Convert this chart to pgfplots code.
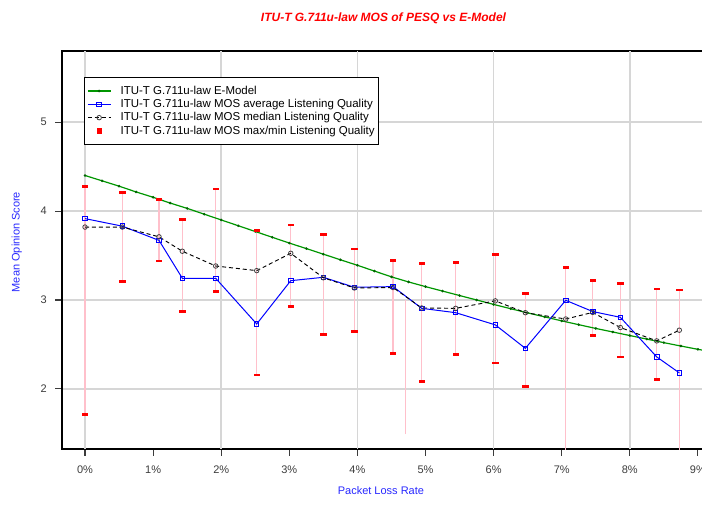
\documentclass[border=0pt]{standalone}
\usepackage{pgfplots}
\usepackage{pgfplotstable}
\pgfplotsset{compat=1.18}
\usepackage{fontspec}
\setmainfont{Liberation Sans}
\definecolor{emgreen}{RGB}{0,150,0}
\definecolor{emdot}{RGB}{0,100,0}
\definecolor{lblblue}{RGB}{40,40,255}
\definecolor{pinkline}{RGB}{255,192,203}
\definecolor{tickgray}{RGB}{60,60,60}

\pgfplotstableread{
x avg med hi lo
0 3.915 3.82 4.275 1.718
0.548 3.83 3.82 4.215 3.214
1.087 3.67 3.71 4.136 3.442
1.429 3.244 3.548 3.908 2.876
1.919 3.244 3.382 4.25 3.094
2.521 2.73 3.33 3.784 2.16
3.021 3.217 3.525 3.847 2.93
3.499 3.255 3.25 3.739 2.618
3.954 3.143 3.135 3.577 2.644
4.523 3.15 3.14 3.45 2.40
4.944 2.906 2.91 3.41 2.09
5.443 2.857 2.906 3.42 2.393
6.025 2.72 2.99 3.517 2.295
6.466 2.456 2.857 3.075 2.033
7.059 2.996 2.786 3.37 nan
7.455 2.87 2.86 3.225 2.60
7.861 2.805 2.69 3.19 2.36
8.395 2.36 2.54 3.127 2.11
8.727 2.18 2.66 3.116 nan
}\pesq

\pgfplotstableread{
x em
0 4.40
0.25 4.34
0.5 4.28
0.75 4.215
1.0 4.155
1.25 4.09
1.5 4.03
1.75 3.965
2.0 3.90
2.25 3.835
2.5 3.77
2.75 3.705
3.0 3.64
3.25 3.578
3.5 3.515
3.75 3.452
4.0 3.39
4.25 3.325
4.5 3.26
4.75 3.203
5.0 3.15
5.25 3.10
5.5 3.05
5.75 3.00
6.0 2.95
6.25 2.902
6.5 2.855
6.75 2.81
7.0 2.765
7.25 2.722
7.5 2.68
7.75 2.64
8.0 2.60
8.25 2.56
8.5 2.52
8.75 2.482
9.0 2.445
9.25 2.41
}\emodel

\begin{document}
\begin{tikzpicture}
\useasboundingbox (0,0) rectangle (526.5pt,378pt);
\begin{axis}[
  at={(46.5pt,41.25pt)}, anchor=south west,
  width=482.25pt, height=298.5pt, scale only axis,
  xmin=-0.338, xmax=9.104, ymin=1.324, ymax=5.80,
  xtick={0,1,2,3,4,5,6,7,8,9},
  xticklabels={0\%,1\%,2\%,3\%,4\%,5\%,6\%,7\%,8\%,9\%},
  ytick={2,3,4,5},
  ymajorgrids,
  extra x ticks={0,2,4,6,8},
  extra x tick labels={},
  extra x tick style={grid=major, major tick length=0pt},
  grid style={draw=black!16, line width=1.1pt},
  axis line style={black, line width=1pt},
  tick align=outside, tick pos=left,
  major tick length=5pt,
  tick style={tickgray, line width=0.8pt},
  /pgf/number format/assume math mode=true,
  ticklabel style={font=\fontsize{8.25}{10}\selectfont, text=tickgray},
  xticklabel style={yshift=-4pt},
  yticklabel style={xshift=-3pt},
  title={ITU-T G.711u-law MOS of PESQ vs E-Model},
  every axis title/.style={at={(axis description cs:0.5,1)}, anchor=center, yshift=24.75pt,
    font=\fontsize{9}{11}\selectfont\bfseries\itshape, text=red},
  xlabel={Packet Loss Rate},
  ylabel={Mean Opinion Score},
  every axis x label/.style={at={(axis description cs:0.496,0)}, anchor=center, yshift=-31.5pt,
    font=\fontsize{8.25}{10}\selectfont, text=lblblue},
  every axis y label/.style={at={(axis description cs:-0.0702,0.52)}, anchor=center, rotate=90,
    font=\fontsize{8.25}{10}\selectfont, text=lblblue},
  legend style={at={(axis description cs:0.0342,0.9354)}, anchor=north west,
    font=\fontsize{8.6}{9}\selectfont, draw=black, line width=0.8pt,
    row sep=0.4pt, inner xsep=2pt, inner ysep=5.5pt,
    nodes={inner sep=0.6pt, text height=6.6pt, text depth=1.8pt},
    /tikz/every odd column/.append style={column sep=6.5pt},
    fill=white},
  legend cell align=left,
  unbounded coords=jump,
]
% pink max/min lines
\addplot[pinkline, line width=0.9pt, forget plot] coordinates {
(0,1.718) (0,4.275) (0,nan)
(0.548,3.214) (0.548,4.215) (0.548,nan)
(1.087,3.442) (1.087,4.136) (1.087,nan)
(1.429,2.876) (1.429,3.908) (1.429,nan)
(1.919,3.094) (1.919,4.25) (1.919,nan)
(2.521,2.16) (2.521,3.784) (2.521,nan)
(3.021,2.93) (3.021,3.847) (3.021,nan)
(3.499,2.618) (3.499,3.739) (3.499,nan)
(3.954,2.644) (3.954,3.577) (3.954,nan)
(4.523,2.40) (4.523,3.45) (4.523,nan)
(4.706,1.49) (4.706,3.0) (4.706,nan)
(4.944,2.09) (4.944,3.41) (4.944,nan)
(5.443,2.393) (5.443,3.42) (5.443,nan)
(6.025,2.295) (6.025,3.517) (6.025,nan)
(6.466,2.033) (6.466,3.075) (6.466,nan)
(7.059,1.0) (7.059,3.37) (7.059,nan)
(7.455,2.60) (7.455,3.225) (7.455,nan)
(7.861,2.36) (7.861,3.19) (7.861,nan)
(8.395,2.11) (8.395,3.127) (8.395,nan)
(8.727,1.0) (8.727,3.116)
};
% E-model
\addplot[emgreen, line width=0.9pt, mark=*, mark size=0.45pt,
  mark options={emdot, draw=emdot, fill=emdot}] table[x=x, y=em] {\emodel};
\addlegendentry{ITU-T G.711u-law E-Model}
% average
\addplot[blue, line width=0.75pt, mark=square, mark size=1.7pt,
  mark options={solid, line width=0.7pt}] table[x=x, y=avg] {\pesq};
\addlegendentry{ITU-T G.711u-law MOS average Listening Quality}
% median
\addplot[black, line width=0.7pt, dash pattern=on 3pt off 2.2pt, mark=o, mark size=1.7pt,
  mark options={solid, black!75, line width=0.6pt}] table[x=x, y=med] {\pesq};
\addlegendentry{ITU-T G.711u-law MOS median Listening Quality}
% max/min markers
\addplot[only marks, red, mark=square*, mark size=1.2pt,
  mark options={xscale=1.7, yscale=0.55}, forget plot] table[x=x, y=hi] {\pesq};
\addplot[only marks, red, mark=square*, mark size=1.2pt,
  mark options={xscale=1.7, yscale=0.55}, forget plot] table[x=x, y=lo] {\pesq};
\addlegendimage{only marks, red, mark=square*, mark size=1.5pt}
\addlegendentry{ITU-T G.711u-law MOS max/min Listening Quality}
\end{axis}
\end{tikzpicture}
\end{document}
